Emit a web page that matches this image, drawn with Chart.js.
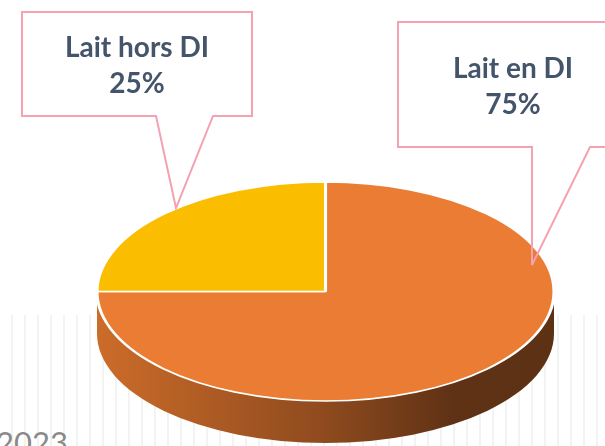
<!DOCTYPE html>
<html>
<head>
<meta charset="utf-8">
<script src="https://cdn.jsdelivr.net/npm/chart.js@4"></script>
<style>
  html, body { margin: 0; padding: 0; background: #fff; }
  #wrap { position: relative; width: 605px; height: 446px; overflow: hidden; font-family: Lato, sans-serif; }
  #stripes { position: absolute; left: 0; top: 315px; width: 605px; height: 131px;
    background: repeating-linear-gradient(90deg, transparent 0 11px, #f1f4f3 11px 13px); }
  #year { position: absolute; left: -4px; top: 424px; font-size: 31px; color: #8a8a8a; line-height: 36px; }
  #chartBox { position: absolute; left: 0; top: 0; width: 605px; height: 446px; }
  svg { position: absolute; left: 0; top: 0; }
  .lbl { position: absolute; transform: translateX(-50%); white-space: nowrap; text-align: center;
    font-weight: 700; font-size: 28px; line-height: 36px; color: #44546a; }
</style>
</head>
<body>
<div id="wrap">
  <div id="stripes"></div>
  <div id="year">2023</div>
  <div id="chartBox"><canvas id="chart"></canvas></div>
  <svg width="605" height="446">
    <path d="M22,12 H252 V116 H213 L176,208 L156,116 H22 Z" fill="none" stroke="#f4a2b2" stroke-width="2"/>
    <path d="M398,22 H612 V147 H590 L532,265 V147 H398 Z" fill="none" stroke="#f4a2b2" stroke-width="2"/>
  </svg>
</div>
<script>
const labels = ['Lait en DI', 'Lait hors DI'];
const values = [75, 25];
const colors = ['#ea7c33', '#fabd00'];

// where the label text sits inside each callout
const labelPos = [{ x: 513, y: 49 }, { x: 137, y: 28 }];

// ellipse of the top face and thickness of the cake
const EX = 325.5, EY = 291.5, RX = 228.5, RY = 109.5, DEPTH = 42;

const pie3d = {
  id: 'pie3d',
  beforeDatasetsDraw(chart) {
    const ctx = chart.ctx;
    const arcs = chart.getDatasetMeta(0).data;
    const a = arcs[0];
    // front side of each slice
    arcs.forEach((arc) => {
      const s = Math.max(arc.startAngle, 0);
      const e = Math.min(arc.endAngle, Math.PI);
      if (e <= s) return;
      const g = ctx.createLinearGradient(EX - RX, 0, EX + RX, 0);
      g.addColorStop(0, '#cc6c29');
      g.addColorStop(0.5, '#8e4a1e');
      g.addColorStop(0.78, '#5f3215');
      g.addColorStop(1, '#5c3114');
      ctx.save();
      ctx.beginPath();
      ctx.ellipse(EX, EY, RX, RY, 0, s, e);
      ctx.ellipse(EX, EY + DEPTH, RX, RY, 0, e, s, true);
      ctx.closePath();
      ctx.fillStyle = g;
      ctx.fill();
      ctx.restore();
    });
    ctx.save();
    ctx.translate(EX, EY);
    ctx.scale(RX / a.outerRadius, RY / a.outerRadius);
    ctx.translate(-a.x, -a.y);
  },
  afterDatasetsDraw(chart) {
    chart.ctx.restore();
  }
};

new Chart(document.getElementById('chart'), {
  type: 'pie',
  data: {
    labels: labels,
    datasets: [{
      data: values,
      backgroundColor: colors,
      borderColor: '#ffffff',
      borderWidth: 3,
      clip: false
    }]
  },
  options: {
    responsive: true,
    maintainAspectRatio: false,
    animation: false,
    events: [],
    plugins: {
      legend: { display: false },
      tooltip: { enabled: false }
    }
  },
  plugins: [pie3d]
});

const wrap = document.getElementById('wrap');
labels.forEach((l, i) => {
  const d = document.createElement('div');
  d.className = 'lbl';
  d.style.left = labelPos[i].x + 'px';
  d.style.top = labelPos[i].y + 'px';
  d.innerHTML = l + '<br>' + values[i] + '%';
  wrap.appendChild(d);
});
</script>
</body>
</html>
